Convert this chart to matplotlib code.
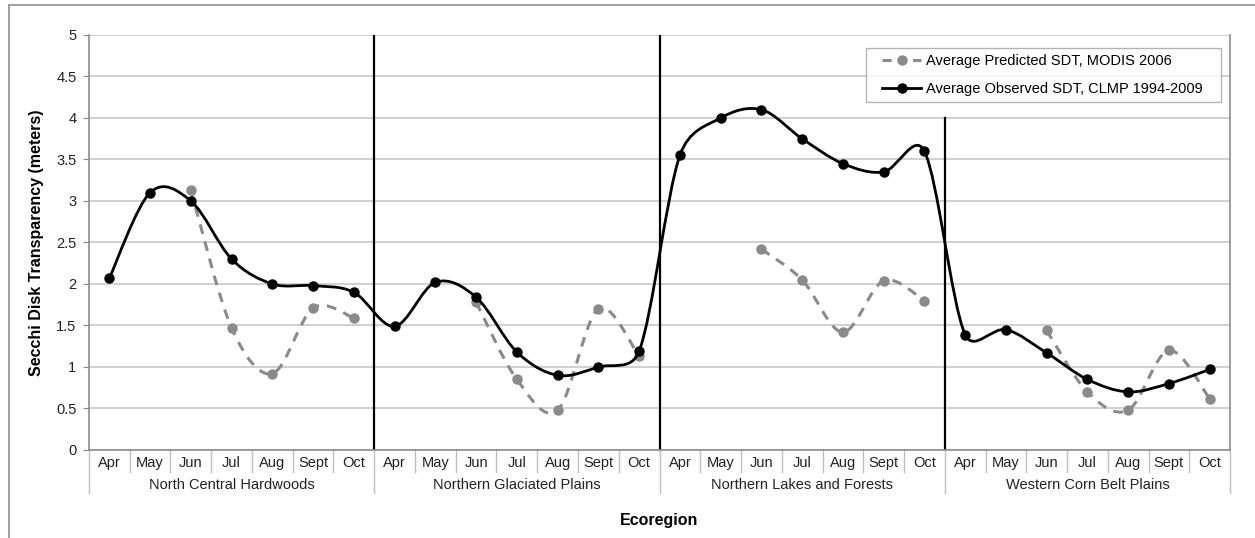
import numpy as np
import matplotlib.pyplot as plt
from matplotlib.path import Path
from matplotlib.patches import PathPatch
from matplotlib.lines import Line2D
from matplotlib.legend_handler import HandlerLine2D

plt.rcParams['font.family'] = ['Liberation Sans', 'DejaVu Sans']

# data
months = ['Apr', 'May', 'Jun', 'Jul', 'Aug', 'Sept', 'Oct']
ecoregions = ['North Central Hardwoods', 'Northern Glaciated Plains',
              'Northern Lakes and Forests', 'Western Corn Belt Plains']

observed = [2.07, 3.10, 3.00, 2.30, 2.00, 1.98, 1.90,
            1.49, 2.02, 1.84, 1.18, 0.90, 1.00, 1.19,
            3.55, 4.00, 4.10, 3.75, 3.45, 3.35, 3.60,
            1.39, 1.45, 1.17, 0.85, 0.70, 0.80, 0.97]

# MODIS predictions only exist for Jun-Oct (None = no value)
predicted = [None, None, 3.13, 1.47, 0.92, 1.71, 1.59,
             None, None, 1.78, 0.85, 0.48, 1.70, 1.13,
             None, None, 2.42, 2.05, 1.42, 2.04, 1.80,
             None, None, 1.44, 0.70, 0.48, 1.20, 0.62]

label_obs = 'Average Observed SDT, CLMP 1994-2009'
label_pred = 'Average Predicted SDT, MODIS 2006'


def smooth_path(ax, xs, ys):
    # Excel style smoothed line: bezier segments, control points worked out
    # in screen space, tangent length capped at half the neighbouring chord
    pts = ax.transData.transform(np.column_stack([xs, ys]))
    n = len(pts)
    verts = [pts[0]]
    codes = [Path.MOVETO]
    for i in range(n - 1):
        p0 = pts[max(i - 1, 0)]
        p1 = pts[i]
        p2 = pts[i + 1]
        p3 = pts[min(i + 2, n - 1)]
        d12 = np.hypot(*(p2 - p1))
        t1 = p2 - p0
        t2 = p3 - p1
        f1 = min(1 / 6, d12 / (2 * max(np.hypot(*t1), 1e-9)))
        f2 = min(1 / 6, d12 / (2 * max(np.hypot(*t2), 1e-9)))
        verts += [p1 + f1 * t1, p2 - f2 * t2, p2]
        codes += [Path.CURVE4] * 3
    verts = ax.transData.inverted().transform(np.array(verts))
    return Path(verts, codes)


def segments(vals):
    segs, cur = [], []
    for i, v in enumerate(vals):
        if v is None:
            if cur:
                segs.append(cur)
            cur = []
        else:
            cur.append((i, v))
    if cur:
        segs.append(cur)
    return segs


fig = plt.figure(figsize=(12.55, 5.38), dpi=100)
ax = fig.add_axes([0.0709, 0.1636, 0.9092, 0.7714])

n = len(observed)
x = np.arange(n)
ax.set_xlim(-0.5, n - 0.5)
ax.set_ylim(0, 5)
ax.set_yticks(np.arange(0, 5.01, 0.5))
ax.set_yticklabels(['0', '0.5', '1', '1.5', '2', '2.5', '3', '3.5', '4', '4.5', '5'])
ax.set_xticks([])
ax.tick_params(axis='y', length=4, color='#8c8c8c', labelsize=10.5, labelcolor='#222222', pad=5)
ax.grid(axis='y', color='#c4c4c4', linewidth=1.1, zorder=0)
ax.set_axisbelow(True)
for s in ax.spines.values():
    s.set_color('#8c8c8c')
    s.set_linewidth(1.2)
ax.spines['top'].set_visible(False)

gray = '#8a8a8a'
# predicted series (dashed gray)
for seg in segments(predicted):
    xs = [p[0] for p in seg]
    ys = [p[1] for p in seg]
    ax.add_patch(PathPatch(smooth_path(ax, xs, ys), fill=False, edgecolor=gray,
                           linewidth=2.2, linestyle=(0, (3.2, 2.6)), zorder=3))
    ax.plot(xs, ys, 'o', color=gray, markersize=6.5, zorder=3)

# observed series (solid black)
ax.add_patch(PathPatch(smooth_path(ax, x, observed), fill=False, edgecolor='black',
                       linewidth=2.0, zorder=4))
ax.plot(x, observed, 'o', color='black', markersize=6.5, zorder=5)

# ecoregion dividers
for k in range(1, len(ecoregions)):
    top = 4.0 if k == 3 else 5.0
    ax.plot([7 * k - 0.5] * 2, [0, top], color='black', linewidth=1.6, zorder=2)

# two-level category axis
trans = ax.get_xaxis_transform()
for i in range(n):
    ax.text(i, -0.031, months[i % 7], transform=trans, ha='center', va='center',
            fontsize=10.5, color='#222222')
for i in range(1, n):
    low = -0.104 if i % 7 == 0 else -0.053
    ax.plot([i - 0.5] * 2, [0, low], transform=trans, color='#c0c0c0',
            linewidth=1.0, clip_on=False)
for b in (-0.5, n - 0.5):
    ax.plot([b] * 2, [0, -0.104], transform=trans, color='#c0c0c0',
            linewidth=1.0, clip_on=False)
for k, name in enumerate(ecoregions):
    ax.text(7 * k + 3, -0.084, name, transform=trans, ha='center', va='center',
            fontsize=10.5, color='#222222')

ax.text(0.5, -0.17, 'Ecoregion', transform=ax.transAxes, ha='center', va='center',
        fontsize=11.5, fontweight='bold')
ax.set_ylabel('Secchi Disk Transparency (meters)', fontsize=11.5, fontweight='bold',
              labelpad=9)

handles = [Line2D([], [], color=gray, linestyle=(0, (3, 2)), linewidth=2.2,
                  marker='o', markersize=6.5),
           Line2D([], [], color='black', linewidth=2.0, marker='o', markersize=6.5)]
leg = ax.legend(handles, [label_pred, label_obs], loc='upper left',
                bbox_to_anchor=(0.681, 0.5, 0.311, 0.469), mode='expand',
                borderaxespad=0, fontsize=10.5, frameon=True, fancybox=False,
                handlelength=3.4, handletextpad=0.3, borderpad=0.4, labelspacing=1.0,
                handler_map={Line2D: HandlerLine2D(xpad=0.7)})
leg.get_frame().set_edgecolor('#a0a0a0')
leg.get_frame().set_linewidth(1.0)

# outer chart frame
fig.add_artist(Line2D([9 / 1255, 9 / 1255], [0, 1 - 5 / 538], color='#909090', linewidth=1.2))
fig.add_artist(Line2D([9 / 1255, 1], [1 - 5 / 538, 1 - 5 / 538], color='#909090', linewidth=1.2))

fig.savefig('out.png', dpi=100)
